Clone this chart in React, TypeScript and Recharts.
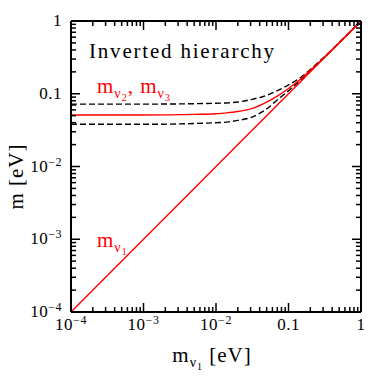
// App.tsx
import React from "react"
import { LineChart, Line, XAxis, YAxis, Label } from "recharts"

// lightest neutrino mass m_nu1 [eV]
const mNu1 = [1e-4, 1e-3, 0.005, 0.01, 0.015, 0.02, 0.03, 0.05, 0.07, 0.1, 0.15, 0.2, 0.3, 0.5, 1]
// m_nu1 itself (diagonal)
const massNu1 = [1e-4, 1e-3, 0.005, 0.01, 0.015, 0.02, 0.03, 0.05, 0.07, 0.1, 0.15, 0.2, 0.3, 0.5, 1]
// m_nu2, m_nu3 central (red solid)
const massNu23 = [0.051, 0.051, 0.052, 0.053, 0.055, 0.057, 0.062, 0.077, 0.093, 0.118, 0.162, 0.21, 0.306, 0.503, 1]
// upper / lower band (black dashed)
const massNu23Hi = [0.072, 0.072, 0.073, 0.074, 0.075, 0.077, 0.083, 0.095, 0.11, 0.132, 0.17, 0.215, 0.31, 0.505, 1]
const massNu23Lo = [0.038, 0.038, 0.039, 0.04, 0.041, 0.043, 0.047, 0.062, 0.082, 0.11, 0.157, 0.206, 0.304, 0.502, 1]

const decades = [1e-4, 1e-3, 1e-2, 0.1, 1]
const tickBase = ["10", "10", "10", "0.1", "1"]
const tickExp = ["\u22124", "\u22123", "\u22122", "", ""]
const minorSteps = [2, 3, 4, 5, 6, 7, 8, 9]

const allTicks = [
  ...decades,
  ...decades.slice(0, -1).flatMap((d) => minorSteps.map((k) => Number((k * d).toPrecision(3)))),
].sort((a, b) => a - b)

const rows = mNu1.map((x, i) => ({
  x,
  m1: massNu1[i],
  mid: massNu23[i],
  hi: massNu23Hi[i],
  lo: massNu23Lo[i],
}))

const W = 366
const H = 366
const FONT = "'Liberation Serif', 'DejaVu Serif', serif"
const RED = "#ff0000"

const decadeIndex = (v: number) => decades.findIndex((d) => Math.abs(v / d - 1) < 1e-6)

const makeTick = (side: "b" | "t" | "l" | "r") => (props: any) => {
  const { x, y, payload } = props
  const i = decadeIndex(payload.value)
  const len = i >= 0 ? 9 : 5
  if (side === "t") return <path d={`M${x},${y}L${x},${y + len}`} stroke="#000" strokeWidth={1.5} />
  if (side === "r") return <path d={`M${x},${y}L${x - len},${y}`} stroke="#000" strokeWidth={1.5} />
  const tick =
    side === "b" ? (
      <path d={`M${x},${y}L${x},${y - len}`} stroke="#000" strokeWidth={1.5} />
    ) : (
      <path d={`M${x},${y}L${x + len},${y}`} stroke="#000" strokeWidth={1.5} />
    )
  if (i < 0) return tick
  const tx = side === "b" ? x : x - 9
  const ty = side === "b" ? y + 18 : y + 5
  return (
    <g>
      {tick}
      <text x={tx} y={ty} textAnchor={side === "b" ? "middle" : "end"} fontFamily={FONT} fontSize={17} letterSpacing={0.5} fill="#000">
        <tspan>{tickBase[i]}</tspan>
        {tickExp[i] ? (
          <tspan dy={-6} fontSize={12}>
            {tickExp[i]}
          </tspan>
        ) : null}
      </text>
    </g>
  )
}

// x title plus the in-plot annotations
const XTitle = (props: any) => {
  const vb = props.viewBox || {}
  const cx = vb.x + vb.width / 2 - 4
  const by = vb.y + 50
  return (
    <g>
      <text x={cx} y={by} textAnchor="middle" fontFamily={FONT} fontSize={21} letterSpacing={1} fill="#000">
        <tspan>m</tspan>
        <tspan dy={5} fontSize={14}>ν</tspan>
        <tspan dy={3} fontSize={10}>1</tspan>
        <tspan dy={-8}> [eV]</tspan>
      </text>
      <text x={81} y={50} fontFamily={FONT} fontSize={21} letterSpacing={1.8} fill="#000">
        Inverted hierarchy
      </text>
      <text x={89} y={85} fontFamily={FONT} fontSize={21} letterSpacing={1} fill={RED}>
        <tspan>m</tspan>
        <tspan dy={5} fontSize={14}>ν</tspan>
        <tspan dy={3} fontSize={10}>2</tspan>
        <tspan dy={-8}>,  m</tspan>
        <tspan dy={5} fontSize={14}>ν</tspan>
        <tspan dy={3} fontSize={10}>3</tspan>
      </text>
      <text x={89} y={239} fontFamily={FONT} fontSize={21} letterSpacing={1} fill={RED}>
        <tspan>m</tspan>
        <tspan dy={5} fontSize={14}>ν</tspan>
        <tspan dy={3} fontSize={10}>1</tspan>
      </text>
    </g>
  )
}

const YTitle = (props: any) => {
  const vb = props.viewBox || {}
  const bx = 15
  const cy = vb.y + vb.height / 2 + 10
  return (
    <text
      x={bx}
      y={cy}
      transform={`rotate(-90 ${bx} ${cy})`}
      textAnchor="middle"
      fontFamily={FONT}
      fontSize={21}
      letterSpacing={1}
      fill="#000"
    >
      m [eV]
    </text>
  )
}

const axisLine = { stroke: "#000", strokeWidth: 2 }

export default function App() {
  return (
    <div style={{ position: "relative", width: W, height: H }}>
      <LineChart width={W} height={H} data={rows} margin={{ top: 12, right: 12, bottom: 0, left: 0 }}>
        <XAxis
          xAxisId="b"
          dataKey="x"
          type="number"
          scale="log"
          domain={[1e-4, 1]}
          allowDataOverflow
          ticks={allTicks}
          interval={0}
          height={62}
          tickSize={0}
          tickMargin={0}
          tickLine={false}
          axisLine={axisLine}
          tick={makeTick("b")}
        >
          <Label content={XTitle} />
        </XAxis>
        <XAxis
          xAxisId="t"
          orientation="top"
          dataKey="x"
          type="number"
          scale="log"
          domain={[1e-4, 1]}
          allowDataOverflow
          ticks={allTicks}
          interval={0}
          height={1}
          tickSize={0}
          tickMargin={0}
          tickLine={false}
          axisLine={axisLine}
          tick={makeTick("t")}
        />
        <YAxis
          yAxisId="l"
          type="number"
          scale="log"
          domain={[1e-4, 1]}
          allowDataOverflow
          ticks={allTicks}
          interval={0}
          width={63}
          tickSize={0}
          tickMargin={0}
          tickLine={false}
          axisLine={axisLine}
          tick={makeTick("l")}
        >
          <Label content={YTitle} />
        </YAxis>
        <YAxis
          yAxisId="r"
          orientation="right"
          type="number"
          scale="log"
          domain={[1e-4, 1]}
          allowDataOverflow
          ticks={allTicks}
          interval={0}
          width={1}
          tickSize={0}
          tickMargin={0}
          tickLine={false}
          axisLine={axisLine}
          tick={makeTick("r")}
        />
        <Line xAxisId="b" yAxisId="l" dataKey="hi" type="monotone" stroke="#000" strokeWidth={1.4} strokeDasharray="6 3" dot={false} isAnimationActive={false} />
        <Line xAxisId="b" yAxisId="l" dataKey="lo" type="monotone" stroke="#000" strokeWidth={1.4} strokeDasharray="6 3" dot={false} isAnimationActive={false} />
        <Line xAxisId="b" yAxisId="l" dataKey="mid" type="monotone" stroke={RED} strokeWidth={1.4} dot={false} isAnimationActive={false} />
        <Line xAxisId="b" yAxisId="l" dataKey="m1" type="linear" stroke={RED} strokeWidth={1.4} dot={false} isAnimationActive={false} />
        <Line xAxisId="t" yAxisId="r" dataKey="m1" stroke="none" dot={false} isAnimationActive={false} />
      </LineChart>
    </div>
  )
}
